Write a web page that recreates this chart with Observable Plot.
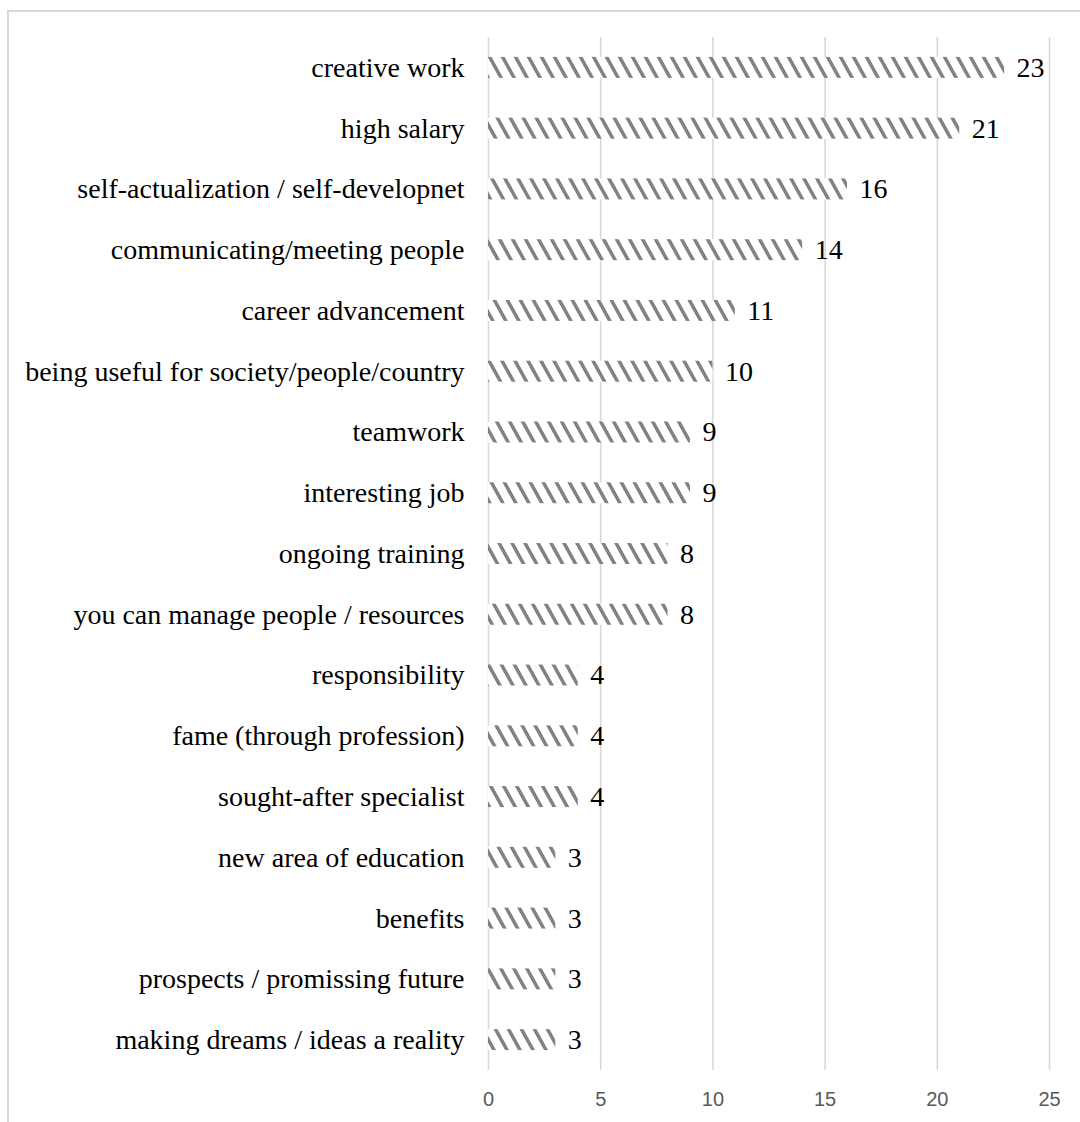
<!DOCTYPE html>
<html>
<head>
<meta charset="utf-8">
<script src="https://cdn.jsdelivr.net/npm/d3@7"></script>
<script src="https://cdn.jsdelivr.net/npm/@observablehq/plot@0.6"></script>
<style>
  html, body { margin: 0; padding: 0; background: #fff; overflow: hidden; }
  #wrap { position: relative; width: 1080px; height: 1122px; }
  #frame { position: absolute; left: 7px; top: 10px; right: -10px; bottom: -10px;
           border-left: 2px solid #d9d9d9; border-top: 2px solid #d9d9d9; pointer-events: none; }
  svg { display: block; }
  g[aria-label="y-axis tick label"] text,
  g[aria-label="text"] text { font-family: "Liberation Serif", Tinos, "Times New Roman", "DejaVu Serif", "Noto Serif", serif !important; }
  g[aria-label="x-axis tick label"] text { font-family: "Liberation Sans Narrow", "Arial Narrow", "Liberation Sans", sans-serif !important; }
</style>
</head>
<body>
<div id="wrap"><div id="frame"></div><div id="chart"></div></div>
<script>
const categories = [
  "creative work",
  "high salary",
  "self-actualization / self-developnet",
  "communicating/meeting people",
  "career advancement",
  "being useful for society/people/country",
  "teamwork",
  "interesting job",
  "ongoing training",
  "you can manage people / resources",
  "responsibility",
  "fame (through profession)",
  "sought-after specialist",
  "new area of education",
  "benefits",
  "prospects / promissing future",
  "making dreams / ideas a reality"
];
const values = [23, 21, 16, 14, 11, 10, 9, 9, 8, 8, 4, 4, 4, 3, 3, 3, 3];
const xTicks = [0, 5, 10, 15, 20, 25];

const data = categories.map((c, i) => ({category: c, value: values[i]}));

function hatchDefs() {
  const defs = d3.create("svg:defs");
  const p = defs.append("pattern")
    .attr("id", "hatch")
    .attr("patternUnits", "userSpaceOnUse")
    .attr("width", 13)
    .attr("height", 20)
    .attr("patternTransform", "skewX(29)");
  p.append("rect").attr("width", 13).attr("height", 20).attr("fill", "#ffffff");
  p.append("rect").attr("x", 1).attr("width", 4).attr("height", 20).attr("fill", "#828282");
  return defs.node();
}

const chart = Plot.plot({
  width: 1080,
  height: 1122,
  marginLeft: 488,
  marginRight: 31,
  marginTop: 37,
  marginBottom: 52,
  style: {background: "transparent"},
  x: {domain: [0, 25], label: null},
  y: {domain: categories, paddingInner: 0.655, paddingOuter: 0.3275, round: false, label: null},
  marks: [
    hatchDefs,
    Plot.gridX(xTicks, {stroke: "#d9d9d9", strokeOpacity: 1, strokeWidth: 1.6}),
    Plot.barX(data, {x: "value", y: "category", fill: "url(#hatch)"}),
    Plot.text(data, {x: "value", y: "category", text: d => String(d.value), dx: 12,
      textAnchor: "start", fontSize: 28, fill: "#000"}),
    Plot.axisX({ticks: xTicks, tickSize: 0, tickPadding: 21, fontSize: 20,
      color: "#595959", label: null}),
    Plot.axisY({tickSize: 0, tickPadding: 24, fontSize: 28,
      color: "#000", label: null, lineWidth: Infinity, textOverflow: null})
  ]
});
document.getElementById("chart").appendChild(chart);
</script>
</body>
</html>
